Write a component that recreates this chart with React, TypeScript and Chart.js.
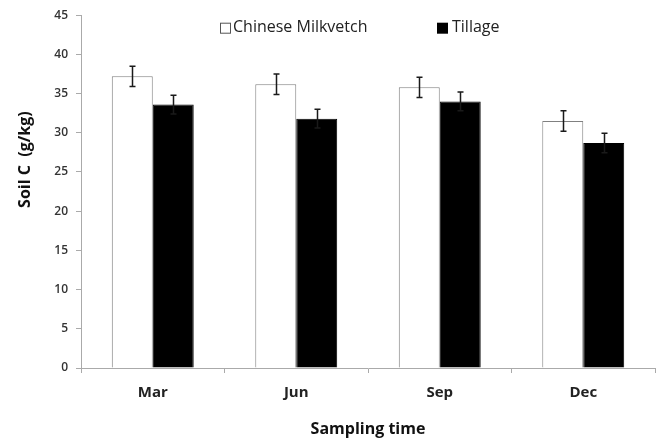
import React, { useEffect, useRef } from "react";
import { Chart, registerables } from "chart.js";

Chart.register(...registerables);

const categories = ["Mar", "Jun", "Sep", "Dec"];
const seriesNames = ["Chinese Milkvetch", "Tillage"];
const milkvetch = [37.2, 36.2, 35.8, 31.5];
const milkvetchErr = [1.3, 1.3, 1.3, 1.3];
const tillage = [33.6, 31.8, 34.0, 28.7];
const tillageErr = [1.2, 1.2, 1.2, 1.25];
const yTicks = [0, 5, 10, 15, 20, 25, 30, 35, 40, 45];

const errorBars = {
  id: "errorBars",
  afterDatasetsDraw(chart: any) {
    const ctx = chart.ctx;
    const y = chart.scales.y;
    const errs = [milkvetchErr, tillageErr];
    chart.data.datasets.forEach((ds: any, di: number) => {
      const meta = chart.getDatasetMeta(di);
      meta.data.forEach((bar: any, i: number) => {
        const v = ds.data[i];
        const e = errs[di][i];
        const top = y.getPixelForValue(v + e);
        const bot = y.getPixelForValue(v - e);
        const x = Math.round(bar.x) + 0.5;
        ctx.save();
        ctx.strokeStyle = "#1a1a1a";
        ctx.lineWidth = 1.5;
        ctx.beginPath();
        ctx.moveTo(x, top);
        ctx.lineTo(x, bot);
        ctx.moveTo(x - 3, top);
        ctx.lineTo(x + 3, top);
        ctx.moveTo(x - 3, bot);
        ctx.lineTo(x + 3, bot);
        ctx.stroke();
        ctx.restore();
      });
    });
  },
};

const innerLegend = {
  id: "innerLegend",
  afterDraw(chart: any) {
    const ctx = chart.ctx;
    const a = chart.chartArea;
    const cy = a.top + 12.5;
    ctx.save();
    ctx.font = "16px 'Open Sans'";
    ctx.textBaseline = "middle";
    // item 1
    const b1 = a.left + 139;
    ctx.fillStyle = "#fff";
    ctx.fillRect(b1, cy - 5, 10, 10);
    ctx.strokeStyle = "#555";
    ctx.lineWidth = 1;
    ctx.strokeRect(b1 + 0.5, cy - 4.5, 10, 10);
    ctx.fillStyle = "#222";
    ctx.fillText(seriesNames[0], b1 + 13, cy);
    // item 2
    const b2 = a.left + 356;
    ctx.fillStyle = "#000";
    ctx.fillRect(b2, cy - 5, 11, 11);
    ctx.fillStyle = "#222";
    ctx.fillText(seriesNames[1], b2 + 15, cy);
    ctx.restore();
  },
};

export default function App() {
  const ref = useRef<HTMLCanvasElement>(null);
  useEffect(() => {
    document.body.style.margin = "0";
    const chart = new Chart(ref.current!, {
      type: "bar",
      data: {
        labels: categories,
        datasets: [
          {
            label: seriesNames[0],
            data: milkvetch,
            backgroundColor: "#ffffff",
            borderColor: "#808080",
            borderWidth: 1,
            categoryPercentage: 0.571,
            barPercentage: 1,
          },
          {
            label: seriesNames[1],
            data: tillage,
            backgroundColor: "#000000",
            borderColor: "#000000",
            borderWidth: 1,
            categoryPercentage: 0.571,
            barPercentage: 1,
          },
        ],
      },
      options: {
        animation: false,
        responsive: false,
        maintainAspectRatio: false,
        layout: { padding: { top: 8, right: 1, left: 16, bottom: 0 } },
        plugins: {
          tooltip: { enabled: false },
          legend: { display: false },
        },
        scales: {
          x: {
            offset: true,
            grid: {
              display: true,
              drawOnChartArea: false,
              offset: true,
              tickLength: 5,
              color: "#aaa",
            },
            border: { display: true, color: "#aaa", width: 1 },
            ticks: {
              color: "#222",
              padding: 11,
              font: { family: "Open Sans", size: 15, weight: "bold" },
            },
            title: {
              display: true,
              text: "Sampling time",
              color: "#111",
              font: { family: "Open Sans", size: 16, weight: "bold" },
              padding: { top: 8, bottom: 0 },
            },
            afterFit(scale: any) {
              scale.height = 71;
            },
          },
          y: {
            min: 0,
            max: 45,
            afterBuildTicks(scale: any) {
              scale.ticks = yTicks.map((v) => ({ value: v }));
            },
            grid: {
              display: true,
              drawOnChartArea: false,
              tickLength: 5,
              color: "#aaa",
            },
            border: { display: true, color: "#aaa", width: 1 },
            ticks: {
              color: "#333",
              padding: 8,
              font: { family: "Open Sans", size: 12, weight: "600" },
            },
            title: {
              display: true,
              text: "\u2003\u2003\u2003\u2003Soil C  (g/kg)",
              color: "#111",
              font: { family: "Open Sans", size: 16, weight: "bold" },
              padding: { top: 0, bottom: 4 },
            },
            afterFit(scale: any) {
              scale.width = 65;
            },
          },
        },
      },
      plugins: [errorBars, innerLegend],
    });
    return () => chart.destroy();
  }, []);
  return (
    <div style={{ width: 656, height: 439 }}>
      <canvas ref={ref} width={656} height={439} style={{ display: "block" }} />
    </div>
  );
}
